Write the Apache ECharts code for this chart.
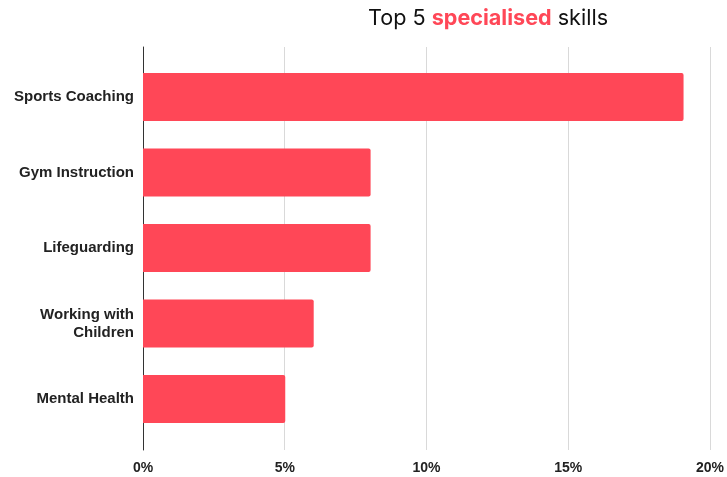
<!DOCTYPE html>
<html><head><meta charset="utf-8">
<script src="https://cdn.jsdelivr.net/npm/echarts@6/dist/echarts.min.js"></script>
<style>html,body{margin:0;padding:0;background:#fff}#c{width:727px;height:477px}</style>
</head><body><div id="c"></div>
<script>
const categories = ['Sports Coaching', 'Gym Instruction', 'Lifeguarding', 'Working with\nChildren', 'Mental Health'];
const values = [19, 8, 8, 6, 5];
const xTicks = [0, 5, 10, 15, 20];

const chart = echarts.init(document.getElementById('c'), null, {renderer: 'canvas'});
const labelFont = {fontFamily: '"Liberation Sans", Arial, sans-serif', fontWeight: 'bold', fontSize: 14, color: '#222'};
chart.setOption({
  animation: false,
  title: {
    text: '{a|Top 5 }{b|specialised}{a| skills}',
    left: 363, top: 2,
    textStyle: {
      rich: {
        a: {fontFamily: 'Inter, "Noto Sans", sans-serif', fontSize: 21.6, color: '#111', fontWeight: 'normal'},
        b: {fontFamily: 'Inter, "Noto Sans", sans-serif', fontSize: 21.6, color: '#ff4757', fontWeight: 'bold'}
      }
    }
  },
  grid: [
    {left: 143, right: 15, top: 47, height: 403, containLabel: false},
    {left: 143, right: 15, top: 59.3, height: 377.4, containLabel: false}
  ],
  xAxis: [
    {gridIndex: 0, type: 'value', min: xTicks[0], max: xTicks[xTicks.length - 1], interval: 5,
     axisLine: {show: false}, axisTick: {show: false},
     splitLine: {show: true, lineStyle: {color: '#d9d9d9', width: 1}},
     axisLabel: Object.assign({formatter: v => v + '%', margin: 11}, labelFont)},
    {gridIndex: 1, type: 'value', min: xTicks[0], max: xTicks[xTicks.length - 1], show: false, splitLine: {show: false}}
  ],
  yAxis: [
    {gridIndex: 0, type: 'category', data: categories, inverse: true,
     axisLine: {show: true, lineStyle: {color: '#333', width: 1}}, axisTick: {show: false},
     axisLabel: {show: false}, splitLine: {show: false}},
    {gridIndex: 1, type: 'category', data: categories, inverse: true,
     axisLine: {show: false}, axisTick: {show: false},
     axisLabel: Object.assign({}, labelFont, {margin: 9, lineHeight: 18, align: 'right', fontSize: 15, padding: [5, 0, 0, 0]})}
  ],
  series: [{
    type: 'bar', xAxisIndex: 1, yAxisIndex: 1, data: values, barWidth: 48,
    itemStyle: {color: '#ff4757', borderRadius: [0, 2, 2, 0]}
  }]
});
</script></body></html>
